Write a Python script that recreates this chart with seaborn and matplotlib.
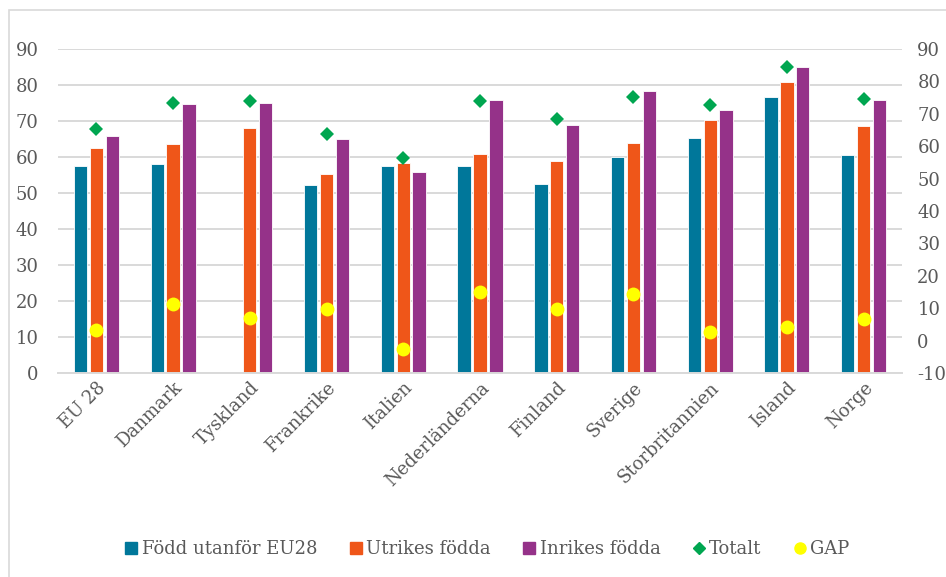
import numpy as np
import pandas as pd
import matplotlib
matplotlib.use("Agg")
import matplotlib.pyplot as plt
import seaborn as sns
from matplotlib.lines import Line2D
from matplotlib.patches import Rectangle

countries = ["EU 28", "Danmark", "Tyskland", "Frankrike", "Italien", "Nederländerna",
             "Finland", "Sverige", "Storbritannien", "Island", "Norge"]
fodd_utanfor_eu28 = [57.4, 58.0, np.nan, 52.3, 57.4, 57.6, 52.6, 60.0, 65.3, 76.6, 60.6]
utrikes_fodda = [62.5, 63.7, 68.1, 55.3, 58.3, 60.8, 59.0, 64.0, 70.3, 80.8, 68.7]
inrikes_fodda = [65.7, 74.8, 75.0, 64.9, 55.7, 75.9, 68.9, 78.3, 73.0, 85.0, 75.7]
totalt = [65.4, 73.4, 73.9, 63.8, 56.3, 73.9, 68.3, 75.2, 72.6, 84.5, 74.7]
gap = [3.2, 11.2, 7.0, 9.6, -2.7, 14.9, 9.9, 14.3, 2.7, 4.2, 6.8]

series_names = ["Född utanför EU28", "Utrikes födda", "Inrikes födda"]
bar_colors = ["#00779A", "#EF5619", "#953289"]
green = "#00A650"
yellow = "#FFFF00"
text_color = "#595959"
grid_color = "#D9D9D9"

df = pd.DataFrame({"Land": countries,
                   series_names[0]: fodd_utanfor_eu28,
                   series_names[1]: utrikes_fodda,
                   series_names[2]: inrikes_fodda,
                   "Totalt": totalt,
                   "GAP": gap})
long = df.melt(id_vars="Land", value_vars=series_names, var_name="Serie", value_name="Värde")

sns.set_theme(style="white")
plt.rcParams["font.family"] = ["DejaVu Serif"]
plt.rcParams["axes.unicode_minus"] = False

fig = plt.figure(figsize=(9.46, 5.77), dpi=100)
ax = fig.add_axes([58 / 946, 1 - 373 / 577, 844 / 946, 324 / 577])

sns.barplot(data=long, x="Land", y="Värde", hue="Serie", hue_order=series_names,
            order=countries, palette=bar_colors, width=0.62, gap=0.16,
            errorbar=None, legend=False, ax=ax, edgecolor="white", linewidth=0.6,
            saturation=1)
ax.set_ylim(0, 90)
ax.set_yticks(range(0, 91, 10))
ax.set_xlim(-0.5, len(countries) - 0.5)
ax.yaxis.grid(True, color=grid_color, linewidth=1.4)
ax.set_axisbelow(True)
for s in ["top", "left", "right"]:
    ax.spines[s].set_visible(False)
ax.spines["bottom"].set_color(grid_color)
ax.spines["bottom"].set_linewidth(1.4)
ax.set_xlabel("")
ax.set_ylabel("")
ax.tick_params(axis="y", length=0, pad=14, labelsize=13, labelcolor=text_color)
ax.tick_params(axis="x", length=0, pad=4, labelsize=13, labelcolor=text_color)
plt.setp(ax.get_xticklabels(), rotation=45, ha="right", rotation_mode="anchor")

ax2 = ax.twinx()
sns.pointplot(data=df, x="Land", y="Totalt", order=countries, color=green,
              markers="D", linestyle="none", markersize=7.5, errorbar=None, ax=ax2)
sns.pointplot(data=df, x="Land", y="GAP", order=countries, color=yellow,
              markers="o", linestyle="none", markersize=10, errorbar=None, ax=ax2)
for coll in ax2.collections:
    coll.set_zorder(5)
for ln in ax2.lines:
    ln.set_zorder(5)
    ln.set_markeredgewidth(0)
ax2.set_ylim(-10, 90)
ax2.set_yticks(range(-10, 91, 10))
ax2.set_xlim(-0.5, len(countries) - 0.5)
ax2.set_ylabel("")
ax2.set_xlabel("")
for s in ["top", "left", "right", "bottom"]:
    ax2.spines[s].set_visible(False)
ax2.tick_params(axis="y", length=0, pad=11, labelsize=13, labelcolor=text_color)

handles = [
    Line2D([], [], linestyle="none", marker="s", markersize=8, color=bar_colors[0]),
    Line2D([], [], linestyle="none", marker="s", markersize=8, color=bar_colors[1]),
    Line2D([], [], linestyle="none", marker="s", markersize=8, color=bar_colors[2]),
    Line2D([], [], linestyle="none", marker="D", markersize=6, color=green),
    Line2D([], [], linestyle="none", marker="o", markersize=8, color=yellow),
]
labels = series_names + ["Totalt", "GAP"]
fig.legend(handles, labels, loc="center", bbox_to_anchor=(486 / 946, 1 - 549 / 577),
           ncol=5, frameon=False, fontsize=13, labelcolor=text_color,
           handletextpad=0.1, columnspacing=1.6, handlelength=1.0)

fig.patches.append(Rectangle((9 / 946, -0.05), 2, 1 - 10 / 577 + 0.05, transform=fig.transFigure,
                             fill=False, edgecolor=grid_color, linewidth=1.2))

fig.savefig("out.png", dpi=100, facecolor="white")
